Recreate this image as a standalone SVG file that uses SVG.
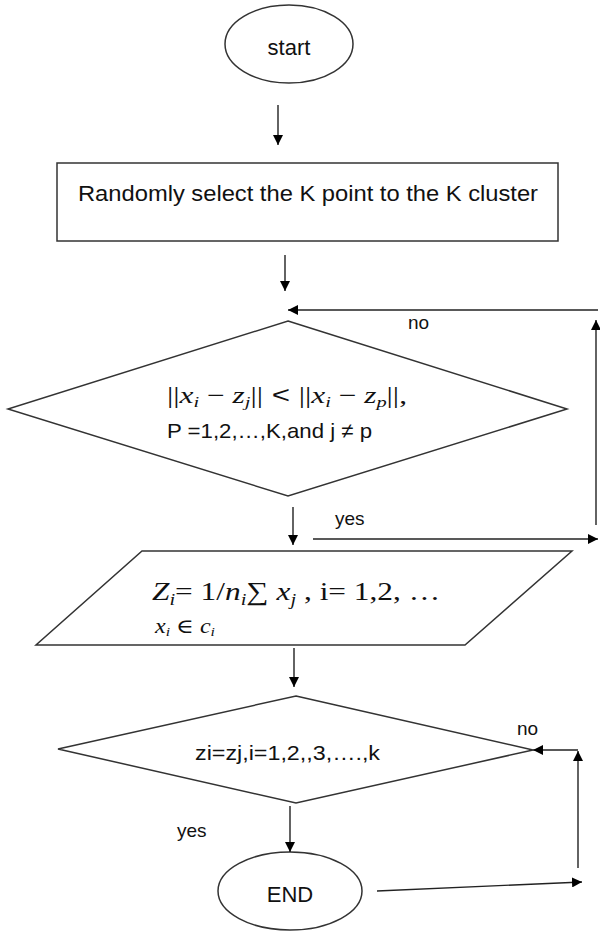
<svg xmlns="http://www.w3.org/2000/svg" width="600" height="931" viewBox="0 0 600 931">
<defs>
<marker id="ah" viewBox="0 0 10 10" refX="10" refY="5" markerWidth="10" markerHeight="10" markerUnits="userSpaceOnUse" orient="auto">
<path d="M0,0 L10,5 L0,10 z" fill="#000"/>
</marker>
<style>
.shape{fill:#fff;stroke:#333;stroke-width:1.5}
.conn{fill:none;stroke:#222;stroke-width:1.4;marker-end:url(#ah)}
.lbl{font-family:"Liberation Sans",Arial,sans-serif;fill:#111}
.math{font-family:"Liberation Serif","DejaVu Serif",serif;fill:#111}
.it{font-style:italic}
</style>
</defs>
<rect width="600" height="931" fill="#fff"/>

<g id="start">
<ellipse class="shape" cx="289" cy="44" rx="64" ry="39"/>
<text class="lbl" x="289" y="55" font-size="22" text-anchor="middle">start</text>
</g>

<g id="init">
<rect class="shape" x="57" y="163" width="501" height="78"/>
<text class="lbl" x="78" y="201" font-size="22" textLength="460" lengthAdjust="spacingAndGlyphs">Randomly select the K point to the K cluster</text>
</g>

<g id="assign">
<polygon class="shape" points="288,321 567,409 288,496 8,409"/>
<text class="math" x="167" y="403" font-size="23" textLength="240" lengthAdjust="spacingAndGlyphs">||<tspan class="it">x</tspan><tspan class="it" font-size="15" dy="4">i</tspan><tspan dy="-4"> − </tspan><tspan class="it">z</tspan><tspan class="it" font-size="15" dy="4">j</tspan><tspan dy="-4">||</tspan><tspan font-family="Liberation Sans"> &lt; </tspan>||<tspan class="it">x</tspan><tspan class="it" font-size="15" dy="4">i</tspan><tspan dy="-4"> − </tspan><tspan class="it">z</tspan><tspan class="it" font-size="15" dy="4">p</tspan><tspan dy="-4">||,</tspan></text>
<text class="lbl" x="167" y="438" font-size="21" textLength="205" lengthAdjust="spacingAndGlyphs">P =1,2,…,K,and j ≠ p</text>
</g>

<g id="update">
<polygon class="shape" points="142,551 572,551 465,645 36,645"/>
<text class="math" x="152" y="600" font-size="26" textLength="288" lengthAdjust="spacingAndGlyphs"><tspan class="it">Z</tspan><tspan class="it" font-size="17" dy="5">i</tspan><tspan dy="-5">=  1/</tspan><tspan class="it">n</tspan><tspan class="it" font-size="17" dy="5">i</tspan><tspan dy="-5">∑ </tspan><tspan class="it">x</tspan><tspan class="it" font-size="17" dy="5">j</tspan><tspan dy="-5">  ,  i= 1,2,  …</tspan></text>
<text class="math" x="155" y="633" font-size="20" textLength="60" lengthAdjust="spacingAndGlyphs"><tspan class="it">x</tspan><tspan class="it" font-size="13" dy="3">i</tspan><tspan dy="-3"> ∈ </tspan><tspan class="it">c</tspan><tspan class="it" font-size="13" dy="3">i</tspan></text>
</g>

<g id="converge">
<polygon class="shape" points="296,696 533,750 296,803 58,749"/>
<text class="lbl" x="195" y="760" font-size="21" textLength="185" lengthAdjust="spacingAndGlyphs">zi=zj,i=1,2,,3,….,k</text>
</g>

<g id="end">
<ellipse class="shape" cx="290" cy="891" rx="72" ry="39"/>
<text class="lbl" x="290" y="902" font-size="22" text-anchor="middle">END</text>
</g>

<g id="connectors">
<line class="conn" x1="278" y1="105" x2="278" y2="145"/>
<line class="conn" x1="285" y1="255" x2="285" y2="291"/>
<line class="conn" x1="596" y1="525" x2="596" y2="320"/>
<line class="conn" x1="598" y1="310" x2="288" y2="310"/>
<line class="conn" x1="293" y1="507" x2="293" y2="545"/>
<line class="conn" x1="313" y1="539" x2="598" y2="539"/>
<line class="conn" x1="294" y1="648" x2="294" y2="687"/>
<line class="conn" x1="290" y1="806" x2="290" y2="852"/>
<line class="conn" x1="377" y1="891" x2="582" y2="882"/>
<line class="conn" x1="578" y1="868" x2="578" y2="751"/>
<line class="conn" x1="578" y1="750" x2="533" y2="750"/>
<text class="lbl" x="408" y="329" font-size="19">no</text>
<text class="lbl" x="335" y="525" font-size="19">yes</text>
<text class="lbl" x="517" y="735" font-size="19">no</text>
<text class="lbl" x="177" y="837" font-size="19">yes</text>
</g>
</svg>
